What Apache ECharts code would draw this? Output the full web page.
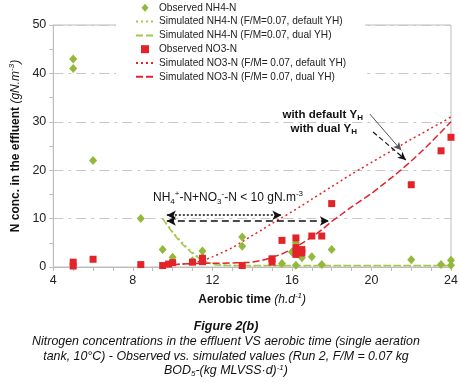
<!DOCTYPE html>
<html>
<head>
<meta charset="utf-8">
<script src="https://cdn.jsdelivr.net/npm/echarts@6/dist/echarts.min.js"></script>
<style>
html, body { margin: 0; padding: 0; background: #fff; }
#chart { width: 461px; height: 382px; }
</style>
</head>
<body>
<div id="chart"></div>
<script>
// observed values [aerobic time, conc]
const nh4Observed = [[5, 43], [5, 41], [6, 22], [8.4, 10], [9.5, 3.6], [10, 2.0], [11, 1.3], [11.5, 3.3], [11.5, 2.0],
  [13.5, 6.2], [13.5, 4.3], [15.5, 0.7], [16, 3.1], [16.2, 5.0], [16.2, 0.35], [16.5, 1.9], [17, 2.1], [17.5, 0.5],
  [18, 3.6], [22, 1.5], [23.5, 0.5], [24, 1.4], [24, 0.35]];
const no3Observed = [[5, 1.0], [5, 0.2], [6, 1.6], [8.4, 0.5], [9.5, 0.3], [9.8, 0.6], [10, 0.9], [11, 1.0], [11.5, 1.8],
  [11.5, 1.1], [13.5, 0.3], [15, 1.7], [15, 1.0], [15.5, 5.5], [16.2, 6.0], [16.2, 4.0], [16.2, 2.6], [16.5, 3.6],
  [16.5, 2.9], [17, 6.4], [17.5, 6.4], [18, 13.1], [22, 17.0], [23.5, 24.0], [24, 26.8]];

// simulated curves
const simTime = [9.5, 10, 10.5, 11, 11.5, 12, 12.5, 13, 13.5, 14, 14.5, 15, 15.5, 16, 16.5, 17, 17.5, 18, 18.5, 19,
  19.5, 20, 20.5, 21, 21.5, 22, 22.5, 23, 23.5, 24];
const nh4SimDefault = [10, 7.3, 5.0, 3.0, 1.5, 0.7, 0.4, 0.3, 0.28, 0.26, 0.25, 0.25, 0.25, 0.25, 0.25, 0.25, 0.25, 0.25,
  0.25, 0.25, 0.25, 0.25, 0.25, 0.25, 0.25, 0.25, 0.25, 0.25, 0.25, 0.25];
const nh4SimDual = [10, 7.1, 4.7, 2.8, 1.4, 0.6, 0.35, 0.3, 0.3, 0.3, 0.3, 0.3, 0.3, 0.3, 0.3, 0.3, 0.3, 0.3,
  0.3, 0.3, 0.3, 0.3, 0.3, 0.3, 0.3, 0.3, 0.3, 0.3, 0.3, 0.3];
const no3SimDefault = [0.3, 0.45, 0.6, 0.8, 1.3, 2.1, 3.0, 4.0, 5.2, 6.5, 7.7, 9.0, 10.2, 11.4, 12.7, 14.0, 15.3, 16.6,
  17.9, 19.2, 20.4, 21.6, 22.8, 24.0, 25.2, 26.4, 27.5, 28.7, 29.8, 31.0];
const no3SimDual = [0.3, 0.5, 0.6, 0.7, 0.75, 0.8, 0.8, 0.85, 0.9, 1.0, 1.4, 2.0, 2.7, 3.7, 4.9, 6.2, 7.7, 9.4,
  10.9, 12.4, 13.8, 15.2, 16.8, 18.4, 20.1, 21.9, 23.8, 25.8, 27.9, 30.0];

const xTicks = [4, 8, 12, 16, 20, 24];
const yTicks = [0, 10, 20, 30, 40, 50];

const seriesNames = [
  'Observed NH4-N',
  'Simulated NH4-N (F/M=0.07, default YH)',
  'Simulated NH4-N (F/M=0.07, dual YH)',
  'Observed NO3-N',
  'Simulated NO3-N (F/M= 0.07, default YH)',
  'Simulated NO3-N (F/M= 0.07, dual YH)'
];

const FONT = '"Liberation Sans", Arial, sans-serif';
const green = '#93b83a';
const greenLine = '#a6c84c';
const red = '#e3232a';
const axisGray = '#bdbdbd';

function zip(xs, ys) {
  return xs.map((x, i) => [x, ys[i]]);
}

// legend: keep marker shapes square-ish, hide the dot on line icons
const legendData = seriesNames.map((name, i) => {
  if (i === 0) return { name: name, icon: 'path://M4,0L8,4.5L4,9L0,4.5Z' };
  if (i === 3) return { name: name, icon: 'path://M0,0L7,0L7,7L0,7Z' };
  return { name: name, itemStyle: { opacity: 0 } };
});

const chart = echarts.init(document.getElementById('chart'));

const option = {
  animation: false,
  textStyle: { fontFamily: FONT },
  grid: {
    left: 46, right: 10, top: 25, bottom: 115,
    show: true, borderColor: axisGray, borderWidth: 1, backgroundColor: 'transparent'
  },
  legend: {
    data: legendData,
    orient: 'vertical',
    left: 116, top: 0,
    padding: [2, 19, 3, 19],
    backgroundColor: '#fff',
    itemWidth: 18, itemHeight: 8, itemGap: 2.2,
    symbolKeepAspect: true,
    textStyle: { fontSize: 10.1, color: '#222', lineHeight: 11.6 }
  },
  xAxis: {
    type: 'value',
    min: xTicks[0], max: xTicks[xTicks.length - 1], interval: 4,
    name: '{b|Aerobic time }{i|(h.d}{isup|-1}{i|)}',
    nameLocation: 'middle', nameGap: 22,
    nameTextStyle: {
      rich: {
        b: { fontSize: 12, fontWeight: 'bold', color: '#111' },
        i: { fontSize: 12, fontStyle: 'italic', color: '#111' },
        isup: { fontSize: 8, fontStyle: 'italic', color: '#111', padding: [0, 0, 8, 0] }
      }
    },
    axisLine: { lineStyle: { color: axisGray } },
    axisTick: { show: true, length: 4, lineStyle: { color: axisGray } },
    minorTick: { show: true, splitNumber: 4, length: 4, lineStyle: { color: axisGray } },
    axisLabel: { fontSize: 12.5, color: '#222', margin: 7 },
    splitLine: { show: false }
  },
  yAxis: {
    type: 'value',
    min: yTicks[0], max: yTicks[yTicks.length - 1], interval: 10,
    name: '{b|N conc. in the effluent }{i|(gN.m}{isup|-3}{i|)}',
    nameLocation: 'middle', nameGap: 28, nameRotate: 90,
    nameTextStyle: {
      rich: {
        b: { fontSize: 12, fontWeight: 'bold', color: '#111' },
        i: { fontSize: 12, fontStyle: 'italic', color: '#111' },
        isup: { fontSize: 8, fontStyle: 'italic', color: '#111', padding: [0, 0, 7, 0] }
      }
    },
    axisLine: { show: true, lineStyle: { color: axisGray } },
    axisTick: { show: true, length: 4, lineStyle: { color: axisGray } },
    minorTick: { show: true, splitNumber: 2, length: 4, lineStyle: { color: axisGray } },
    axisLabel: { fontSize: 12.5, color: '#222', margin: 7 },
    splitLine: { show: true, lineStyle: { color: '#c8c8c8', width: 1.2, type: [10, 5, 3, 5] } }
  },
  series: [
    {
      name: seriesNames[0], type: 'scatter', data: nh4Observed,
      symbol: 'diamond', symbolSize: [8, 9], itemStyle: { color: green, opacity: 1 }, z: 4
    },
    {
      name: seriesNames[1], type: 'line', data: zip(simTime, nh4SimDefault),
      symbol: 'none', smooth: 0.3, lineStyle: { color: greenLine, width: 1.6, type: [2, 3] },
      itemStyle: { color: greenLine }, z: 2
    },
    {
      name: seriesNames[2], type: 'line', data: zip(simTime, nh4SimDual),
      symbol: 'none', smooth: 0.3, lineStyle: { color: greenLine, width: 1.6, type: [7, 3] },
      itemStyle: { color: greenLine }, z: 2
    },
    {
      name: seriesNames[3], type: 'scatter', data: no3Observed,
      symbol: 'rect', symbolSize: 7, itemStyle: { color: red, opacity: 1 }, z: 5
    },
    {
      name: seriesNames[4], type: 'line', data: zip(simTime, no3SimDefault),
      symbol: 'none', smooth: 0.3, lineStyle: { color: red, width: 1.5, type: [2, 3] },
      itemStyle: { color: red }, z: 3
    },
    {
      name: seriesNames[5], type: 'line', data: zip(simTime, no3SimDual),
      symbol: 'none', smooth: 0.3, lineStyle: { color: red, width: 1.5, type: [7, 3] },
      itemStyle: { color: red }, z: 3,
      markLine: {
        silent: true,
        symbol: ['arrow', 'arrow'],
        symbolSize: [7, 9],
        label: { show: false },
        emphasis: { disabled: true },
        data: [
          [{ coord: [9.71, 10.7], lineStyle: { color: '#111', width: 1.6, type: [2, 2] } }, { coord: [15.47, 10.7] }],
          [{ coord: [9.71, 9.5], lineStyle: { color: '#111', width: 1.6, type: [7, 4] } }, { coord: [17.86, 9.5] }],
          [{ coord: [19.92, 31.6], symbol: 'none', lineStyle: { color: '#555', width: 1, type: 'solid' } },
            { coord: [21.5, 24.1], symbol: 'arrow', symbolSize: [6, 8] }],
          [{ coord: [20.08, 27.9], symbol: 'none', lineStyle: { color: '#111', width: 1.2, type: [5, 3] } },
            { coord: [21.73, 22.1], symbol: 'arrow', symbolSize: [6, 8] }]
        ]
      }
    }
  ],
  graphic: [
    {
      type: 'text', left: 153, top: 190,
      style: {
        text: 'NH{sub|4}{sup|+}-N+NO{sub|3}{sup|-}-N < 10 gN.m{sup|-3}',
        font: '12px ' + FONT, fill: '#111',
        rich: {
          sub: { fontSize: 8, padding: [7, 0, 0, 0], fill: '#111' },
          sup: { fontSize: 8, padding: [0, 0, 8, 0], fill: '#111' }
        }
      }
    },
    {
      type: 'text', right: 98, top: 109,
      style: {
        text: 'with default Y{sub|H}',
        font: 'bold 11.5px ' + FONT, fill: '#111',
        rich: { sub: { fontSize: 8, fontWeight: 'bold', padding: [6, 0, 0, 0], fill: '#111' } }
      }
    },
    {
      type: 'text', right: 104, top: 123,
      style: {
        text: 'with dual Y{sub|H}',
        font: 'bold 11.5px ' + FONT, fill: '#111',
        rich: { sub: { fontSize: 8, fontWeight: 'bold', padding: [6, 0, 0, 0], fill: '#111' } }
      }
    },
    {
      type: 'text', x: 226, y: 320,
      style: { text: 'Figure 2(b)', textAlign: 'center', font: 'italic bold 12.5px ' + FONT, fill: '#111' }
    },
    {
      type: 'text', x: 226, y: 336,
      style: {
        text: 'Nitrogen concentrations in the effluent VS aerobic time (single aeration',
        textAlign: 'center', font: 'italic 12.4px ' + FONT, fill: '#111'
      }
    },
    {
      type: 'text', x: 226, y: 351,
      style: {
        text: 'tank, 10°C) - Observed vs. simulated values (Run 2, F/M = 0.07 kg',
        textAlign: 'center', font: 'italic 12.4px ' + FONT, fill: '#111'
      }
    },
    {
      type: 'text', x: 226, y: 364,
      style: {
        text: 'BOD{sub|5}-(kg MLVSS·d){sup|-1})',
        textAlign: 'center', font: 'italic 12.4px ' + FONT, fill: '#111',
        rich: {
          sub: { fontSize: 8, fontStyle: 'italic', padding: [6, 0, 0, 0], fill: '#111' },
          sup: { fontSize: 8, fontStyle: 'italic', padding: [0, 0, 6, 0], fill: '#111' }
        }
      }
    }
  ]
};

chart.setOption(option);
</script>
</body>
</html>
